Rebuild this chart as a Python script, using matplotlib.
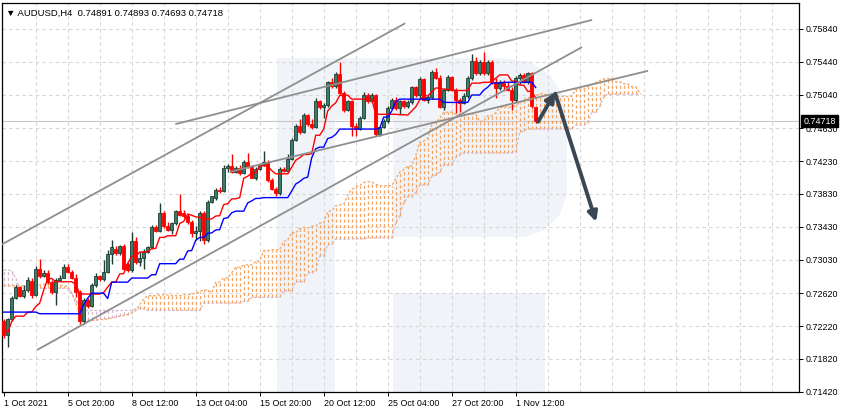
import numpy as np
import pandas as pd
import matplotlib
matplotlib.use('Agg')
import matplotlib.pyplot as plt
from matplotlib.patches import Polygon, Rectangle
from matplotlib.transforms import blended_transform_factory

plt.rcParams['font.family'] = ['Liberation Sans', 'DejaVu Sans']

HEADER = "\u25BC AUDUSD,H4  0.74891 0.74893 0.74693 0.74718"
LAST_PRICE = 0.74718

# H4 candles, 1 Oct 2021 -> 2 Nov 2021
opens = [
    0.7228, 0.7211, 0.7230, 0.7256, 0.7269, 0.7259, 0.7266, 0.7277, 0.7260, 0.7292,
    0.7283, 0.7287, 0.7276, 0.7264, 0.7278, 0.7281, 0.7294, 0.7288, 0.7281, 0.7264,
    0.7228, 0.7254, 0.7246, 0.7272, 0.7283, 0.7279, 0.7288, 0.7310, 0.7316, 0.7311,
    0.7320, 0.7298, 0.7290, 0.7326, 0.7300, 0.7305, 0.7312, 0.7318, 0.7343, 0.7338,
    0.7360, 0.7344, 0.7339, 0.7347, 0.7362, 0.7360, 0.7356, 0.7349, 0.7335, 0.7338,
    0.7360, 0.7327, 0.7373, 0.7378, 0.7388, 0.7386, 0.7415, 0.7417, 0.7410, 0.7415,
    0.7409, 0.7422, 0.7416, 0.7403, 0.7413, 0.7420, 0.7422, 0.7400, 0.7389, 0.7384,
    0.7413, 0.7411, 0.7426, 0.7449, 0.7466, 0.7459, 0.7479, 0.7468, 0.7465, 0.7496,
    0.7489, 0.7491, 0.7519, 0.7514, 0.7529, 0.7506, 0.7485, 0.7496, 0.7466, 0.7462,
    0.7476, 0.7503, 0.7496, 0.7503, 0.7456, 0.7465, 0.7472, 0.7488, 0.7497, 0.7488,
    0.7496, 0.7490, 0.7495, 0.7513, 0.7503, 0.7523, 0.7497, 0.7501, 0.7531, 0.7524,
    0.7489, 0.7510, 0.7525, 0.7510, 0.7497, 0.7494, 0.7502, 0.7524, 0.7545, 0.7530,
    0.7544, 0.7530, 0.7544, 0.7519, 0.7512, 0.7519, 0.7514, 0.7510, 0.7497, 0.7524,
    0.7528, 0.7519, 0.7530, 0.74891,
]
highs = [
    0.7231, 0.7232, 0.7259, 0.7272, 0.7271, 0.7272, 0.7282, 0.7280, 0.7295, 0.7304,
    0.7290, 0.7290, 0.7278, 0.7280, 0.7284, 0.7297, 0.7298, 0.7290, 0.7285, 0.7266,
    0.7256, 0.7256, 0.7275, 0.7287, 0.7284, 0.7302, 0.7315, 0.7327, 0.7320, 0.7321,
    0.7322, 0.7300, 0.7337, 0.7330, 0.7313, 0.7316, 0.7320, 0.7345, 0.7345, 0.7372,
    0.7362, 0.7349, 0.7349, 0.7363, 0.7383, 0.7364, 0.7358, 0.7351, 0.7344, 0.7362,
    0.7362, 0.7376, 0.7381, 0.7390, 0.7391, 0.7418, 0.7420, 0.7432, 0.7417, 0.7418,
    0.7424, 0.7433, 0.7418, 0.7416, 0.7421, 0.7435, 0.7424, 0.7402, 0.7391, 0.7416,
    0.7416, 0.7432, 0.7451, 0.7468, 0.7474, 0.7482, 0.7480, 0.7474, 0.7500, 0.7497,
    0.7494, 0.7521, 0.7524, 0.7531, 0.7544, 0.7508, 0.7498, 0.7498, 0.7470, 0.7478,
    0.7507, 0.7506, 0.7506, 0.7505, 0.7466, 0.7474, 0.7490, 0.7500, 0.7501, 0.7498,
    0.7498, 0.7497, 0.7515, 0.7515, 0.7525, 0.7524, 0.7503, 0.7534, 0.7536, 0.7528,
    0.7512, 0.7528, 0.7527, 0.7512, 0.7500, 0.7506, 0.7527, 0.7554, 0.7550, 0.7546,
    0.7556, 0.7546, 0.7546, 0.7524, 0.7522, 0.7522, 0.7520, 0.7513, 0.7527, 0.7530,
    0.7530, 0.7531, 0.7531, 0.74893,
]
lows = [
    0.7208, 0.7196, 0.7228, 0.7255, 0.7257, 0.7256, 0.7264, 0.7256, 0.7259, 0.7281,
    0.7282, 0.7273, 0.7261, 0.7248, 0.7277, 0.7280, 0.7287, 0.7279, 0.7257, 0.7225,
    0.7224, 0.7244, 0.7245, 0.7270, 0.7277, 0.7277, 0.7287, 0.7297, 0.7309, 0.7309,
    0.7290, 0.7288, 0.7288, 0.7297, 0.7295, 0.7292, 0.7311, 0.7316, 0.7336, 0.7336,
    0.7342, 0.7338, 0.7334, 0.7345, 0.7356, 0.7354, 0.7346, 0.7331, 0.7327, 0.7326,
    0.7322, 0.7325, 0.7372, 0.7376, 0.7384, 0.7385, 0.7410, 0.7409, 0.7409, 0.7406,
    0.7407, 0.7415, 0.7402, 0.7400, 0.7412, 0.7417, 0.7398, 0.7388, 0.7380, 0.7382,
    0.7410, 0.7409, 0.7424, 0.7447, 0.7456, 0.7457, 0.7466, 0.7462, 0.7463, 0.7486,
    0.7476, 0.7489, 0.7512, 0.7512, 0.7504, 0.7483, 0.7484, 0.7453, 0.7453, 0.7461,
    0.7474, 0.7494, 0.7494, 0.7453, 0.7453, 0.7463, 0.7470, 0.7486, 0.7485, 0.7480,
    0.7488, 0.7488, 0.7493, 0.7501, 0.7500, 0.7496, 0.7494, 0.7499, 0.7523, 0.7488,
    0.7485, 0.7508, 0.7508, 0.7482, 0.7483, 0.7492, 0.7500, 0.7522, 0.7528, 0.7528,
    0.7528, 0.7528, 0.7517, 0.7500, 0.7510, 0.7508, 0.7508, 0.7485, 0.7495, 0.7517,
    0.7518, 0.7517, 0.7488, 0.74693,
]
closes = [
    0.7211, 0.7230, 0.7256, 0.7269, 0.7259, 0.7266, 0.7278, 0.7260, 0.7292, 0.7283,
    0.7287, 0.7276, 0.7264, 0.7278, 0.7281, 0.7294, 0.7288, 0.7281, 0.7264, 0.7228,
    0.7254, 0.7246, 0.7272, 0.7283, 0.7279, 0.7288, 0.7310, 0.7318, 0.7311, 0.7320,
    0.7292, 0.7290, 0.7326, 0.7300, 0.7305, 0.7312, 0.7318, 0.7343, 0.7338, 0.7360,
    0.7344, 0.7339, 0.7347, 0.7362, 0.7357, 0.7356, 0.7349, 0.7335, 0.7338, 0.7360,
    0.7327, 0.7373, 0.7380, 0.7388, 0.7386, 0.7415, 0.7417, 0.7410, 0.7415, 0.7409,
    0.7422, 0.7416, 0.7403, 0.7413, 0.7420, 0.7422, 0.7400, 0.7389, 0.7384, 0.7413,
    0.7411, 0.7426, 0.7449, 0.7466, 0.7459, 0.7479, 0.7468, 0.7465, 0.7496, 0.7489,
    0.7491, 0.7519, 0.7514, 0.7529, 0.7506, 0.7485, 0.7496, 0.7466, 0.7462, 0.7476,
    0.7503, 0.7496, 0.7503, 0.7456, 0.7465, 0.7472, 0.7488, 0.7497, 0.7488, 0.7496,
    0.7490, 0.7495, 0.7513, 0.7503, 0.7523, 0.7497, 0.7501, 0.7531, 0.7524, 0.7489,
    0.7510, 0.7525, 0.7510, 0.7497, 0.7494, 0.7502, 0.7524, 0.7545, 0.7530, 0.7544,
    0.7530, 0.7544, 0.7519, 0.7512, 0.7519, 0.7514, 0.7510, 0.7497, 0.7524, 0.7528,
    0.7519, 0.7530, 0.7490, 0.74718,
]

# kijun for the first 26 bars (needs pre-October history)
kijun_head = [
    0.7239, 0.7239, 0.7239, 0.7239, 0.7239, 0.7239, 0.7239, 0.7239, 0.7239, 0.7237,
    0.7237, 0.7237, 0.7237, 0.7237, 0.7237, 0.7237, 0.7237, 0.7237, 0.7237, 0.7237,
    0.7248, 0.7256, 0.7262, 0.7262, 0.7262, 0.7262,
]

senkou_a_head = [
    0.7271, 0.7271, 0.7271, 0.7271, 0.7271, 0.7271, 0.7271, 0.7272, 0.7272, 0.7272,
    0.7273, 0.7273, 0.7273, 0.7272, 0.7272, 0.7271, 0.7270, 0.7262, 0.7250, 0.7238,
    0.7230, 0.7229, 0.7229, 0.7229, 0.7230, 0.7230, 0.7231, 0.7232, 0.7233, 0.7234,
    0.7235, 0.7236, 0.7238, 0.7241, 0.7248, 0.7255, 0.7259, 0.7259, 0.7259, 0.7260,
    0.7260, 0.7260, 0.7259, 0.7259, 0.7259, 0.7260, 0.7260, 0.7261, 0.7262, 0.7264,
    0.7266, 0.7266,
]
senkou_b_head = [
    0.7290, 0.7290, 0.7290, 0.7280, 0.7268, 0.7268, 0.7268, 0.7268, 0.7268, 0.7268,
    0.7268, 0.7268, 0.7268, 0.7268, 0.7268, 0.7268, 0.7268, 0.7262, 0.7254, 0.7248,
    0.7241, 0.7241, 0.7241, 0.7241, 0.7241, 0.7241, 0.7241, 0.7241, 0.7241, 0.7241,
    0.7241, 0.7241, 0.7241, 0.7243, 0.7243, 0.7243, 0.7241, 0.7241, 0.7241, 0.7241,
    0.7241, 0.7241, 0.7241, 0.7241, 0.7241, 0.7241, 0.7241, 0.7241, 0.7241, 0.7241,
    0.7250, 0.7250, 0.7250, 0.7250, 0.7250, 0.7250, 0.7250, 0.7250, 0.7250, 0.7250,
    0.7252, 0.7252, 0.7257, 0.7257, 0.7257, 0.7257, 0.7257, 0.7257, 0.7257, 0.7257,
    0.7265, 0.7265, 0.7265, 0.7276, 0.7276, 0.7276, 0.7287, 0.7287,
]

date_labels = ["1 Oct 2021", "5 Oct 20:00", "8 Oct 12:00", "13 Oct 04:00",
               "15 Oct 20:00", "20 Oct 12:00", "25 Oct 04:00", "27 Oct 20:00",
               "1 Nov 12:00"]
date_label_bars = [0, 16, 32, 48, 64, 80, 96, 112, 128]
grid_bars = [8, 16, 24, 32, 40, 48, 56, 64, 72, 80, 88, 96, 104, 112, 120, 128,
             136, 144, 152, 160, 168, 176, 184, 192]
price_ticks = [0.7584, 0.7544, 0.7504, 0.7463, 0.7423, 0.7383, 0.7343,
               0.7303, 0.7262, 0.7222, 0.7182, 0.7142]

# hand-drawn trend lines (bar index, price)
line_start_bar = [-1.0, 8.4, 42.9, 56.6]
line_start_price = [0.7320, 0.7193, 0.7468, 0.7410]
line_end_bar = [100.4, 144.6, 147.1, 161.1]
line_end_price = [0.7591, 0.7562, 0.7595, 0.7533]

# forecast arrows (bar index, price)
arrow_tail_bar = [133.6, 137.9]
arrow_tail_price = [0.7471, 0.7505]
arrow_head_bar = [137.9, 148.1]
arrow_head_price = [0.7507, 0.7349]

BULL_FILL = "#3a7d68"
BULL_EDGE = "#1d3b31"
BEAR = "#ff0000"
GRID = "#d6d6d6"
WATERMARK = "#f0f3f8"
KUMO_UP = "#f4a460"
KUMO_DN = "#d2b8d2"


def ichimoku(df):
    hi, lo = df["h"], df["l"]
    tenkan = (hi.rolling(9, min_periods=1).max() + lo.rolling(9, min_periods=1).min()) / 2
    kijun_calc = (hi.rolling(26, min_periods=1).max() + lo.rolling(26, min_periods=1).min()) / 2
    kijun = np.concatenate([kijun_head, kijun_calc.values[len(kijun_head):]])
    calc_a = (tenkan.values + kijun) / 2
    calc_b = ((hi.rolling(52, min_periods=1).max() + lo.rolling(52, min_periods=1).min()) / 2).values
    # spans are plotted 26 bars ahead
    span_a = np.concatenate([senkou_a_head, calc_a[len(senkou_a_head) - 26:]])
    span_b = np.concatenate([senkou_b_head, calc_b[len(senkou_b_head) - 26:]])
    return tenkan.values, kijun, span_a, span_b


def draw_watermark(ax):
    # RoboForex "R" logo behind the chart, axes fractions
    stem = Rectangle((0.345, 0.0), 0.073, 0.857, transform=ax.transAxes,
                     fc=WATERMARK, ec="none", zorder=0)
    bowl = Polygon([(0.418, 0.857), (0.631, 0.857), (0.663, 0.848), (0.688, 0.814),
                    (0.703, 0.763), (0.709, 0.699), (0.709, 0.506), (0.700, 0.455),
                    (0.682, 0.416), (0.657, 0.398), (0.491, 0.398), (0.491, 0.699),
                    (0.418, 0.699)], closed=True, transform=ax.transAxes,
                   fc=WATERMARK, ec="none", zorder=0)
    leg = Rectangle((0.491, 0.0), 0.191, 0.254, transform=ax.transAxes,
                    fc=WATERMARK, ec="none", zorder=0)
    for p in (stem, bowl, leg):
        ax.add_patch(p)


def main():
    df = pd.DataFrame({"o": opens, "h": highs, "l": lows, "c": closes})
    tenkan, kijun, span_a, span_b = ichimoku(df)

    fig = plt.figure(figsize=(8.44, 4.16), dpi=100)
    ax = fig.add_axes([2.3 / 844, 24.3 / 416, 796.2 / 844, 389 / 416])
    ax.set_xlim(-0.35, 198.7)
    ax.set_ylim(0.7142, 0.7616)

    draw_watermark(ax)

    # grid
    for b in grid_bars:
        ax.axvline(b, color=GRID, lw=0.8, ls=(0, (3, 3)), zorder=1)
    for p in price_ticks:
        ax.axhline(p, color=GRID, lw=0.8, ls=(0, (3, 3)), zorder=1)

    # kumo
    xc = np.arange(len(span_a))
    up = span_a >= span_b
    ax.vlines(xc[up], span_b[up], span_a[up], colors=KUMO_UP, lw=0.9,
              linestyles=(0, (2.5, 2)), zorder=2)
    ax.vlines(xc[~up], span_a[~up], span_b[~up], colors=KUMO_DN, lw=0.9,
              linestyles=(0, (2.5, 2)), zorder=2)
    ax.plot(xc, span_a, color=KUMO_UP, lw=0.9, ls=(0, (2, 1.5)), zorder=2)
    ax.plot(xc, span_b, color=KUMO_DN, lw=0.9, ls=(0, (2, 1.5)), zorder=2)

    # bid line
    ax.axhline(LAST_PRICE, color="#c8c8c8", lw=0.8, zorder=1.5)

    # candles
    o = df["o"].values
    c = df["c"].values
    x = np.arange(len(o))
    bull = c >= o
    ax.vlines(x, df["l"].values, df["h"].values,
              colors=np.where(bull, BULL_EDGE, BEAR), lw=1.0, zorder=4)
    body_h = np.maximum(np.abs(c - o), 0.00004)
    ax.bar(x, body_h, bottom=np.minimum(o, c), width=0.62,
           color=np.where(bull, BULL_FILL, BEAR),
           edgecolor=np.where(bull, BULL_EDGE, BEAR), lw=0.6, zorder=5)

    # tenkan / kijun
    ax.plot(x, tenkan, color="#ff0000", lw=1.0, zorder=6)
    ax.plot(x, kijun, color="#0000ff", lw=1.0, zorder=6)

    # trend lines
    for xs, ps, xe, pe in zip(line_start_bar, line_start_price, line_end_bar, line_end_price):
        ax.plot([xs, xe], [ps, pe], color="#8f8f8f", lw=1.3, zorder=7,
                solid_capstyle="butt")

    # forecast arrows
    for xs, ps, xe, pe in zip(arrow_tail_bar, arrow_tail_price, arrow_head_bar, arrow_head_price):
        ax.annotate("", xy=(xe, pe), xytext=(xs, ps), zorder=8,
                    arrowprops=dict(arrowstyle="-|>", color="#3b4753", lw=2.8,
                                    mutation_scale=14, shrinkA=0, shrinkB=0))

    # axes styling
    for s in ax.spines.values():
        s.set_color("black")
        s.set_linewidth(0.9)
    ax.yaxis.tick_right()
    ax.set_yticks(price_ticks)
    ax.set_yticklabels([f"{p:.5f}" for p in price_ticks])
    ax.set_xticks(date_label_bars)
    ax.set_xticklabels(date_labels, ha="left")
    ax.tick_params(axis="x", length=3, width=0.7, pad=2, labelsize=6.4, color="black")
    ax.tick_params(axis="y", length=3, width=0.7, pad=2, labelsize=6.4, color="black")

    tr = blended_transform_factory(ax.transAxes, ax.transData)
    ax.text(1.006, LAST_PRICE, f"{LAST_PRICE:.5f}", transform=tr, ha="left",
            va="center", color="white", fontsize=6.4, zorder=10, clip_on=False,
            bbox=dict(boxstyle="square,pad=0.22", fc="black", ec="black"))

    ax.text(0.005, 0.985, HEADER, transform=ax.transAxes, ha="left", va="top",
            fontsize=6.8, color="black", zorder=10)

    fig.savefig("out.png", dpi=100)
    plt.close(fig)


if __name__ == "__main__":
    main()
